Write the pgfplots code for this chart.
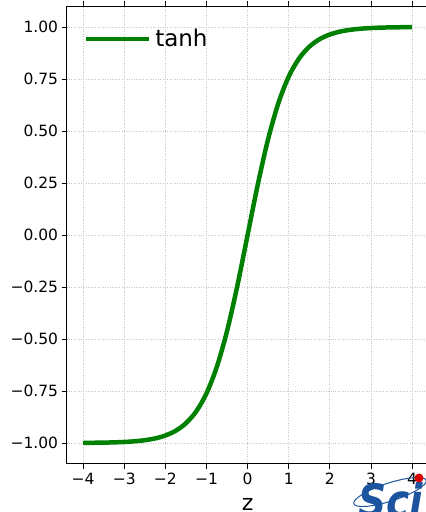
\documentclass[border=0pt]{standalone}
\usepackage{fontspec}
\setmainfont{DejaVu Sans}
\usepackage{pgfplots}
\pgfplotsset{compat=1.18}

\definecolor{mplgreen}{RGB}{0,128,0}
\definecolor{logoblue}{RGB}{28,84,160}

\begin{document}
\begin{tikzpicture}[x=1pt,y=1pt]
\path[use as bounding box] (0,0) rectangle (426,512);
\clip (0,0) rectangle (426,512);
\begin{axis}[
  at={(66.6pt,48.2pt)}, anchor=south west,
  scale only axis,
  width=362pt, height=457.6pt,
  xmin=-4.4, xmax=4.4,
  ymin=-1.1, ymax=1.1,
  xtick={-4,-3,...,4},
  xticklabels={−4,−3,−2,−1,0,1,2,3,4},
  ytick={-1,-0.75,...,1},
  yticklabels={−1.00,−0.75,−0.50,−0.25,0.00,0.25,0.50,0.75,1.00},
  tick align=outside,
  major tick length=5pt,
  tick style={black, line width=0.9pt},
  axis line style={line width=0.9pt},
  tick label style={font=\fontsize{15.5}{15.5}\selectfont},
  xticklabel style={yshift=-1pt},
  grid=major,
  major grid style={gray!45, dotted, line width=0.9pt},
  xlabel={z},
  xlabel style={font=\fontsize{22}{22}\selectfont, yshift=-6.5pt},
  legend style={at={(axis description cs:0,1)}, anchor=north west,
    xshift=14pt, yshift=-17pt, draw=none, fill=none,
    font=\fontsize{23}{23}\selectfont,
    nodes={inner sep=4pt}},
  legend image code/.code={\draw[#1] (0pt,0pt) -- (51pt,0pt);
    \path (51pt,0pt) -- (63pt,0pt);},
]
\addplot[color=mplgreen, line width=4.5pt, smooth] coordinates {
(-4,-0.99933)(-3.75,-0.99889)(-3.5,-0.99818)(-3.25,-0.99700)(-3,-0.99505)
(-2.75,-0.99186)(-2.5,-0.98661)(-2.25,-0.97803)(-2,-0.96403)(-1.75,-0.94138)
(-1.5,-0.90515)(-1.25,-0.84828)(-1,-0.76159)(-0.75,-0.63515)(-0.5,-0.46212)
(-0.25,-0.24492)(0,0)(0.25,0.24492)(0.5,0.46212)(0.75,0.63515)(1,0.76159)
(1.25,0.84828)(1.5,0.90515)(1.75,0.94138)(2,0.96403)(2.25,0.97803)
(2.5,0.98661)(2.75,0.99186)(3,0.99505)(3.25,0.99700)(3.5,0.99818)
(3.75,0.99889)(4,0.99933)
};
\addlegendentry{tanh}
\end{axis}
% watermark in the lower right corner
\draw[logoblue, line width=1pt, rotate around={18:(390,20)}] (390,20) ellipse (38 and 9);
\node[anchor=south west, inner sep=0pt, text=logoblue,
  font=\fontsize{46}{46}\selectfont\bfseries\itshape, xscale=0.85] at (358,-6) {Sci};
\fill[red!85!black] (419,34) circle (4.5);
\end{tikzpicture}
\end{document}
